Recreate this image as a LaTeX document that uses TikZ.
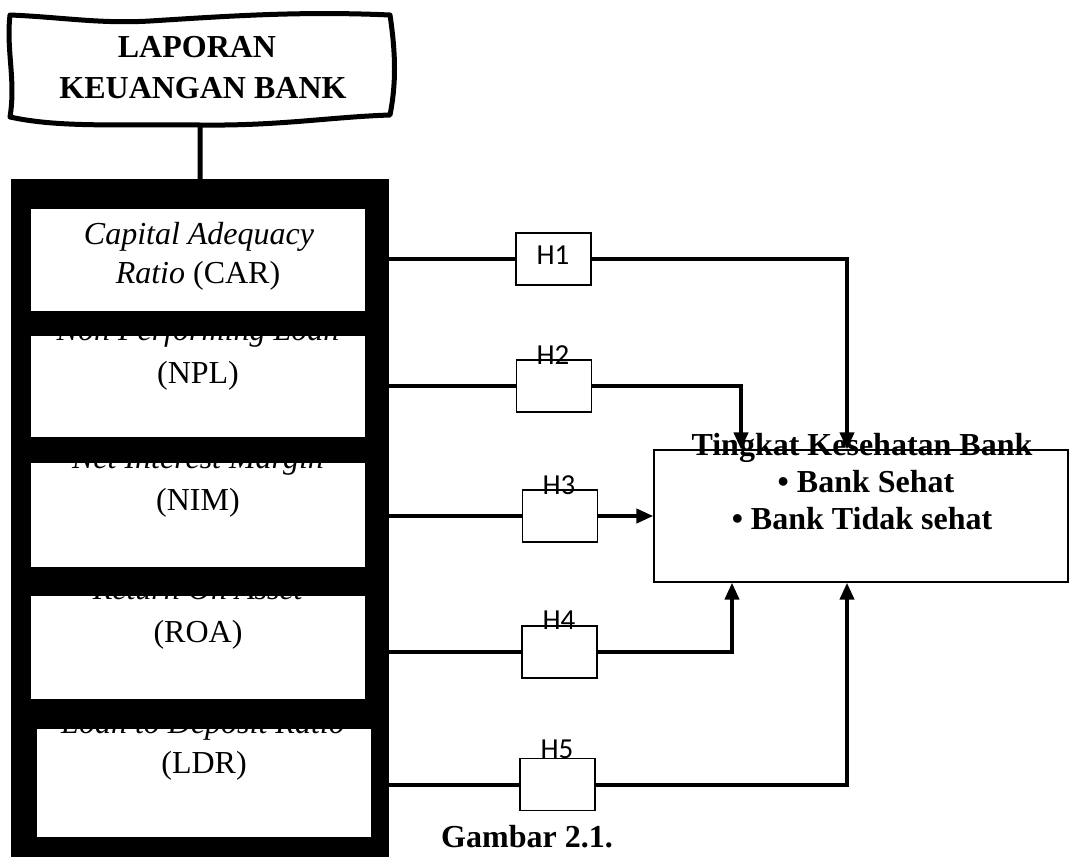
\documentclass[tikz,border=0pt]{standalone}
\usepackage{fontspec}
\setmainfont{Liberation Serif}
\newfontfamily\hfont{Carlito}
\usetikzlibrary{arrows.meta}
\tikzset{
  big/.style={font=\fontsize{32}{37}\selectfont, inner sep=0pt, anchor=base},
  bigb/.style={inner sep=0pt, anchor=base, font=\fontsize{32}{37}\selectfont\bfseries},
  hl/.style={font=\hfont\fontsize{29}{30}\selectfont, inner sep=0pt, anchor=base},
  hbox/.style={draw, line width=1.6pt, minimum width=75pt, minimum height=52pt, inner sep=0pt},
  wbox/.style={fill=white, inner sep=0pt, minimum width=334pt},
  conn/.style={line width=4pt},
  arr/.style={conn, -{Triangle[length=17pt,width=14pt]}},
}
\begin{document}
\begin{tikzpicture}[x=1pt,y=-1pt]
\useasboundingbox (0,0) rectangle (1069,857);
% title wavy box
\draw[line width=5pt, fill=white, line join=round]
  (10,15) .. controls (60,17) and (100,24) .. (150,21)
  .. controls (230,16) and (300,11) .. (390,15)
  .. controls (396,55) and (396,85) .. (390,115)
  .. controls (330,117) and (280,126) .. (200,125)
  .. controls (120,124) and (60,128) .. (10,117)
  .. controls (16,80) and (6,50) .. cycle;
\node[bigb] (tl1) at (197,57) {LAPORAN};
\node[bigb] (tl2) at (203,98) {KEUANGAN BANK};
\coordinate (wb) at (200,125);
% black column
\node[fill=black, inner sep=0pt, minimum width=378pt, minimum height=690pt, anchor=north west] (col) at (11,179) {};
\draw[line width=5pt] (wb) -- (col.north);
% white boxes
\node[wbox, minimum height=102pt] (car) at (198,260) {};
\node[wbox, minimum height=101pt] (npl) at (198,386.5) {};
\node[wbox, minimum height=104pt] (nim) at (198,515) {};
\node[wbox, minimum height=103pt] (roa) at (198,647.5) {};
\node[wbox, minimum height=108pt] (ldr) at (204,783) {};
\node[big] (carA) at (199,244) {\textit{Capital Adequacy}};
\node[big] (carB) at (198,283) {\textit{Ratio} (CAR)};
\begin{scope}
  \clip (npl.north west) rectangle (npl.south east);
  \node[big] (nplA) at (198,340) {\textit{Non Performing Loan}};
  \node[big] (nplB) at (198,383) {(NPL)};
\end{scope}
\begin{scope}
  \clip (nim.north west) rectangle (nim.south east);
  \node[big] (nimA) at (198,468) {\textit{Net Interest Margin}};
  \node[big] (nimB) at (198,510) {(NIM)};
\end{scope}
\begin{scope}
  \clip (roa.north west) rectangle (roa.south east);
  \node[big] (roaA) at (198,599) {\textit{Return On Asset}};
  \node[big] (roaB) at (198,642) {(ROA)};
\end{scope}
\begin{scope}
  \clip (ldr.north west) rectangle (ldr.south east);
  \node[big] (ldrA) at (203,733) {\textit{Loan to Deposit Ratio}};
  \node[big] (ldrB) at (204,773) {(LDR)};
\end{scope}
% H boxes
\node[hbox] (h1) at (553.5,259) {};
\node[hbox] (h2) at (554,386) {};
\node[hbox] (h3) at (560,516) {};
\node[hbox] (h4) at (559.5,652) {};
\node[hbox] (h5) at (557.5,784.5) {};
\node[hl] (h1t) at (553,264) {H1};
\node[hl] (h2t) at (553,364) {H2};
\node[hl] (h3t) at (559,494) {H3};
\node[hl] (h4t) at (559,629) {H4};
\node[hl] (h5t) at (557,758) {H5};
% target
\node[draw, line width=1.3pt, minimum width=414pt, minimum height=132pt, inner sep=0pt] (tgt) at (861,516) {};
\node[bigb] (tA) at (862,455) {Tingkat Kesehatan Bank};
\node[bigb] (tB) at (866,492) {• Bank Sehat};
\node[bigb] (tC) at (862,529) {• Bank Tidak sehat};
% connectors
\foreach \h in {h1,h2,h3,h4,h5} {\draw[conn] (\h.west) -- (\h.west -| col.east);}
\draw[arr] (h1.east) -| ([xshift=-14pt]tgt.north);
\draw[arr] (h2.east) -| ([xshift=-120pt]tgt.north);
\draw[arr] (h3.east) -- (tgt.west);
\draw[arr] (h4.east) -| ([xshift=-129pt]tgt.south);
\draw[arr] (h5.east) -| ([xshift=-14pt]tgt.south);
\node[bigb] (cap) at (527,847) {Gambar 2.1.};
\end{tikzpicture}
\end{document}
